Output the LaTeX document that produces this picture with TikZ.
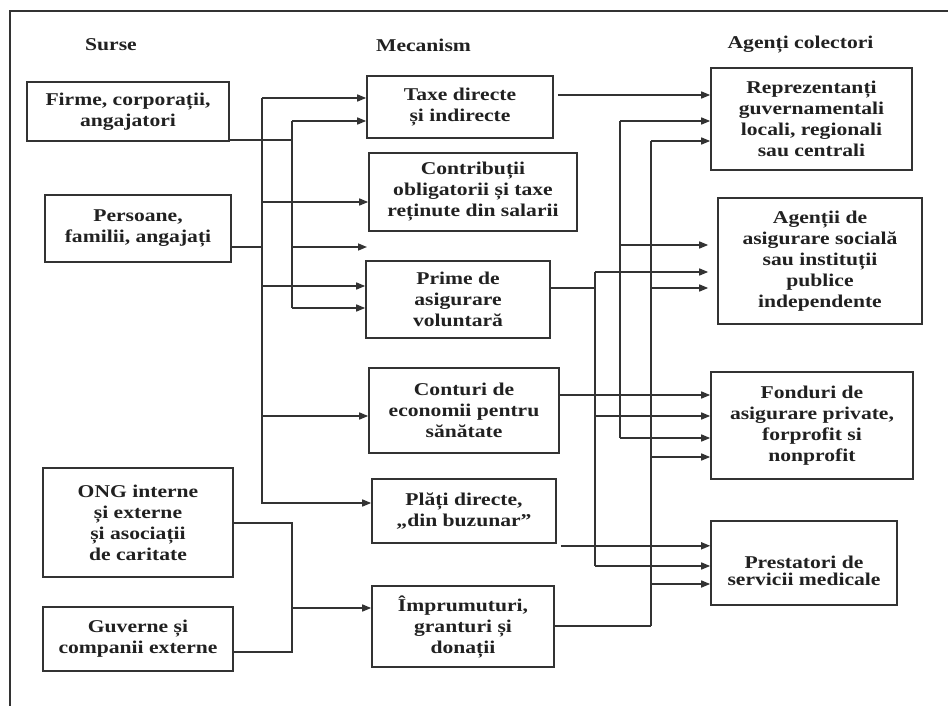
\documentclass[tikz,border=0pt]{standalone}
\usepackage{fontspec}
\setmainfont{Liberation Serif}[FakeStretch=1.2]
\usetikzlibrary{arrows.meta}
\definecolor{boxc}{gray}{0.2}
\definecolor{linec}{gray}{0.2}
\definecolor{txt}{gray}{0.13}
\definecolor{framec}{gray}{0.2}
\begin{document}
\begin{tikzpicture}[x=1pt,y=-1pt,
  box/.style={draw=boxc, line width=1.6pt, align=center, inner sep=0pt,
    font=\fontsize{18}{21}\selectfont\bfseries, text=txt},
  head/.style={font=\fontsize{18}{21}\selectfont\bfseries, text=txt, inner sep=0pt},
  conn/.style={draw=linec, line width=1.5pt},
  arr/.style={conn, -{Triangle[length=9pt,width=7pt]}},
]
\useasboundingbox (0,0) rectangle (948,706);
\fill[white] (0,0) rectangle (948,706);
\draw[line width=2.8pt, draw=framec] (10,706) -- (10,11) -- (948,11);

% headers
\node[head] (h1) at (111,45) {Surse};
\node[head] (h2) at (423.5,45) {Mecanism};
\node[head] (h3) at (800.5,45) {Agenți colectori};

% sources
\node[box, minimum width=202pt, minimum height=59pt] (firme) at (128,111.5) {Firme, corporații,\\angajatori};
\node[box, minimum width=186pt, minimum height=67pt] (persoane) at (138,228.5) {Persoane,\\familii, angajați};
\node[box, minimum width=190pt, minimum height=109pt] (ong) at (138,522.5) {ONG interne\\și externe\\și asociații\\de caritate};
\node[box, minimum width=190pt, minimum height=64pt] (guverne) at (138,639) {Guverne și\\companii externe};

% mechanisms
\node[box, minimum width=186pt, minimum height=62pt] (taxe) at (460,107) {Taxe directe\\și indirecte};
\node[box, minimum width=208pt, minimum height=78pt] (contrib) at (473,192) {Contribuții\\obligatorii și taxe\\reținute din salarii};
\node[box, minimum width=184pt, minimum height=77pt] (prime) at (458,299.5) {Prime de\\asigurare\\voluntară};
\node[box, minimum width=190pt, minimum height=85pt] (conturi) at (464,410.5) {Conturi de\\economii pentru\\sănătate};
\node[box, minimum width=184pt, minimum height=64pt] (plati) at (464,511) {Plăți directe,\\„din buzunar”};
\node[box, minimum width=182pt, minimum height=81pt] (impr) at (463,626.5) {Împrumuturi,\\granturi și\\donații};

% collectors
\node[box, minimum width=201pt, minimum height=102pt] (reprez) at (811.5,119) {Reprezentanți\\guvernamentali\\locali, regionali\\sau centrali};
\node[box, minimum width=204pt, minimum height=126pt] (agentii) at (820,261) {Agenții de\\asigurare socială\\sau instituții\\publice\\independente};
\node[box, minimum width=202pt, minimum height=107pt] (fonduri) at (812,425.5) {Fonduri de\\asigurare private,\\forprofit si\\nonprofit};
\node[box, minimum width=186pt, minimum height=84pt] (prest) at (804,563) {\raisebox{-22pt}[0pt][0pt]{\shortstack{Prestatori de\\[1pt]servicii medicale}}};

% left buses
\coordinate (bA1) at (262,98);
\coordinate (bA2) at (262,202);
\coordinate (bAp) at (262,247);
\coordinate (bA3) at (262,286);
\coordinate (bA4) at (262,416);
\coordinate (bA5) at (262,503);
\coordinate (bB1) at (292,121);
\coordinate (bBf) at (292,140);
\coordinate (bB2) at (292,247);
\coordinate (bB3) at (292,308);
\coordinate (free) at (367,247);

\draw[conn] (persoane.east |- bAp) -- (bAp);
\draw[arr] (bA1) -- (taxe.west |- bA1);
\draw[arr] (bA1) -- (bA5) -- (plati.west |- bA5);
\draw[arr] (bA2) -- (contrib.west |- bA2);
\draw[arr] (bA3) -- (prime.west |- bA3);
\draw[arr] (bA4) -- (conturi.west |- bA4);

\draw[conn] (firme.east |- bBf) -- (bBf);
\draw[conn] (bB1) -- (bB3);
\draw[arr] (bB1) -- (taxe.west |- bB1);
\draw[arr] (bB2) -- (free);
\draw[arr] (bB3) -- (prime.west |- bB3);

\coordinate (bG1) at (292,523);
\coordinate (bG3) at (292,608);
\coordinate (bG2) at (292,652);
\draw[conn] (ong.east |- bG1) -- (bG1) -- (bG2) -- (guverne.east |- bG2);
\draw[arr] (bG3) -- (impr.west |- bG3);

% right buses
\coordinate (tx) at ([xshift=4pt,yshift=12pt]taxe.east);
\draw[arr] (tx) -- (reprez.west |- tx);

\coordinate (bD1) at (620,121);
\coordinate (bD2) at (620,245);
\coordinate (bD3) at (620,438);
\draw[conn] (bD1) -- (bD3);
\draw[arr] (bD1) -- (reprez.west |- bD1);
\draw[arr, shorten >=9pt] (bD2) -- (agentii.west |- bD2);
\draw[arr] (bD3) -- (fonduri.west |- bD3);

\coordinate (bC1) at (595,272);
\coordinate (bCp) at (595,288);
\coordinate (bC2) at (595,416);
\coordinate (bC3) at (595,566);
\draw[conn] (prime.east |- bCp) -- (bCp);
\draw[conn] (bC1) -- (bC3);
\draw[arr, shorten >=9pt] (bC1) -- (agentii.west |- bC1);
\draw[arr] (bC2) -- (fonduri.west |- bC2);
\draw[arr] (bC3) -- (prest.west |- bC3);

\coordinate (bE1) at (651,141);
\coordinate (bE2) at (651,288);
\coordinate (bE3) at (651,457);
\coordinate (bE4) at (651,584);
\coordinate (bE5) at (651,626);
\draw[conn] (impr.east |- bE5) -- (bE5);
\draw[conn] (bE1) -- (bE5);
\draw[arr] (bE1) -- (reprez.west |- bE1);
\draw[arr, shorten >=9pt] (bE2) -- (agentii.west |- bE2);
\draw[arr] (bE3) -- (fonduri.west |- bE3);
\draw[arr] (bE4) -- (prest.west |- bE4);

\coordinate (cy) at (conturi.east |- 0,395);
\draw[arr] (cy) -- (fonduri.west |- cy);
\coordinate (py) at ([xshift=4pt,yshift=-2pt]plati.south east);
\draw[arr] (py) -- (prest.west |- py);
\end{tikzpicture}
\end{document}
